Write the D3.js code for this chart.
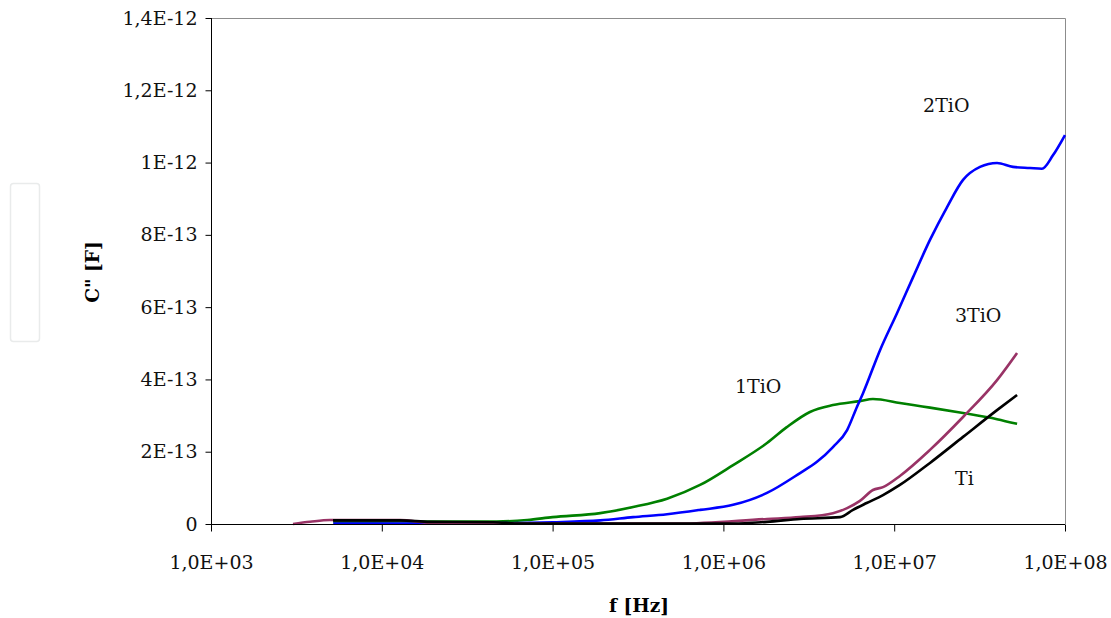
<!DOCTYPE html>
<html>
<head>
<meta charset="utf-8">
<script src="https://cdn.jsdelivr.net/npm/d3@7"></script>
<style>
  html, body { margin: 0; padding: 0; background: #fff; }
  svg { display: block; }
</style>
</head>
<body>
<div id="chart"></div>
<script>
// ---- data (frequency in Hz, C'' in F) ----
const xTicks = [1e3, 1e4, 1e5, 1e6, 1e7, 1e8];
const xTickLabels = ["1,0E+03", "1,0E+04", "1,0E+05", "1,0E+06", "1,0E+07", "1,0E+08"];
const yTicks = [0, 2e-13, 4e-13, 6e-13, 8e-13, 1e-12, 1.2e-12, 1.4e-12];
const yTickLabels = ["0", "2E-13", "4E-13", "6E-13", "8E-13", "1E-12", "1,2E-12", "1,4E-12"];

const seriesNames = ["2TiO", "1TiO", "3TiO", "Ti"];
const seriesColors = ["#0000ff", "#008000", "#993366", "#000000"];

const freq2TiO = [5.2e3, 2.5e4, 1.0e5, 1.9e5, 2.96e5, 4.68e5, 7.3e5, 1.14e6, 1.8e6, 2.81e6, 3.53e6, 4.38e6, 5.3e6, 6.05e6, 6.57e6, 8.26e6, 1.04e7, 1.29e7, 1.62e7, 2.04e7, 2.53e7, 3.18e7, 4.0e7, 4.96e7, 6.24e7, 7.33e7, 8.5e7, 1.0e8];
const val2TiO = [0.1e-14, 0.1e-14, 0.5e-14, 1.0e-14, 1.9e-14, 2.7e-14, 3.9e-14, 5.3e-14, 8.6e-14, 14.1e-14, 17.2e-14, 21.3e-14, 26.0e-14, 32.4e-14, 36.2e-14, 48.1e-14, 58.4e-14, 68.3e-14, 78.6e-14, 87.7e-14, 95.2e-14, 98.8e-14, 99.9e-14, 98.8e-14, 98.5e-14, 98.3e-14, 102e-14, 107.6e-14];

const freq1TiO = [5.2e3, 1.28e4, 2.5e4, 4.7e4, 7.1e4, 1.0e5, 1.9e5, 2.96e5, 4.68e5, 7.3e5, 1.14e6, 1.8e6, 2.35e6, 3.21e6, 4.38e6, 6.3e6, 7.51e6, 1.08e7, 1.29e7, 1.62e7, 2.53e7, 4.0e7, 5.24e7];
const val1TiO = [0.5e-14, 0.7e-14, 0.7e-14, 0.7e-14, 1.1e-14, 1.9e-14, 3.0e-14, 4.7e-14, 7.0e-14, 10.8e-14, 16.3e-14, 22.4e-14, 26.8e-14, 31.0e-14, 32.9e-14, 34.0e-14, 34.6e-14, 33.5e-14, 32.9e-14, 32.2e-14, 30.7e-14, 29.0e-14, 27.7e-14];

const freq3TiO = [3.02e3, 3.8e3, 4.96e3, 1.28e4, 1.92e4, 3.76e4, 5.5e5, 1.8e6, 2.81e6, 4.38e6, 5.3e6, 6.3e6, 7.51e6, 8.6e6, 1.08e7, 1.62e7, 2.53e7, 4.0e7, 5.24e7];
const val3TiO = [0, 0.6e-14, 1.1e-14, 1.1e-14, 0.3e-14, 0.1e-14, 0.1e-14, 1.4e-14, 1.9e-14, 3.0e-14, 4.4e-14, 6.4e-14, 9.4e-14, 10.2e-14, 13.3e-14, 20.5e-14, 29.6e-14, 39.8e-14, 47.3e-14];

const freqTi = [5.18e3, 1.28e4, 1.92e4, 4.5e4, 6.4e4, 1.14e6, 1.8e6, 2.81e6, 4.82e6, 5.74e6, 6.9e6, 8.6e6, 1.08e7, 1.62e7, 2.53e7, 4.0e7, 5.24e7];
const valTi = [1.0e-14, 1.0e-14, 0.6e-14, 0.5e-14, 0.1e-14, 0.1e-14, 0.6e-14, 1.4e-14, 1.9e-14, 3.9e-14, 5.8e-14, 8.0e-14, 10.8e-14, 16.9e-14, 24.1e-14, 31.5e-14, 35.7e-14];

// label anchor positions (data coordinates)
const labelFreq = [1.476e7, 1.17e6, 2.27e7, 2.27e7];
const labelVal = [11.4e-13, 3.62e-13, 5.59e-13, 1.08e-13];

// ---- chart ----
const W = 1111, H = 618;
const mLeft = 211, mRight = 1065, mTop = 18, mBottom = 524;
const serif = "'DejaVu Serif', 'Liberation Serif', serif";

const svg = d3.select("#chart").append("svg").attr("width", W).attr("height", H);

const x = d3.scaleLog().domain([1e3, 1e8]).range([mLeft, mRight]);
const y = d3.scaleLinear().domain([0, 1.4e-12]).range([mBottom, mTop]);

// faint box at left
svg.append("rect").attr("x", 10.5).attr("y", 183.5).attr("width", 29).attr("height", 158)
  .attr("rx", 3).attr("fill", "none").attr("stroke", "#e9ebeb").attr("stroke-width", 1.5);

// plot area border (top/right)
svg.append("path")
  .attr("d", `M${mLeft},${mTop + 0.5}H${mRight + 0.5}V${mBottom}`)
  .attr("fill", "none").attr("stroke", "#8c8c8c").attr("stroke-width", 1);

// lines
const seriesData = [
  [freq2TiO, val2TiO],
  [freq1TiO, val1TiO],
  [freq3TiO, val3TiO],
  [freqTi, valTi]
];
const line = d3.line().x(d => x(d[0])).y(d => y(d[1])).curve(d3.curveMonotoneX);
const drawOrder = [1, 0, 2, 3];
drawOrder.forEach(i => {
  const [fs, vs] = seriesData[i];
  svg.append("path")
    .datum(fs.map((f, k) => [f, vs[k]]))
    .attr("d", line)
    .attr("fill", "none")
    .attr("stroke", seriesColors[i])
    .attr("stroke-width", 2.6)
    .attr("stroke-linejoin", "round");
});

// axes
const yAxis = svg.append("g").attr("transform", `translate(${mLeft + 0.5},0)`)
  .call(d3.axisLeft(y).tickValues(yTicks).tickSize(6).tickPadding(8)
    .tickFormat((d, i) => yTickLabels[i]));
yAxis.select(".domain").attr("stroke", "#000").attr("d", `M0,${mBottom}V${mTop}`);
yAxis.selectAll(".tick line").attr("stroke", "#000");
yAxis.selectAll(".tick text").attr("font-family", serif).attr("font-size", 19).attr("fill", "#111");

const xAxis = svg.append("g").attr("transform", `translate(0,${mBottom + 0.5})`)
  .call(d3.axisBottom(x).tickValues(xTicks).tickSize(7).tickPadding(24)
    .tickFormat((d, i) => xTickLabels[i]));
xAxis.select(".domain").attr("stroke", "#000").attr("d", `M${mLeft},0H${mRight}`);
xAxis.selectAll(".tick line").attr("stroke", "#000");
xAxis.selectAll(".tick text").attr("font-family", serif).attr("font-size", 19).attr("fill", "#111");

// axis titles
svg.append("text")
  .attr("transform", `translate(${99},${272}) rotate(-90)`)
  .attr("text-anchor", "middle")
  .attr("font-family", serif).attr("font-weight", "bold").attr("font-size", 18.5)
  .text('C" [F]');

svg.append("text")
  .attr("x", 639).attr("y", 612)
  .attr("text-anchor", "middle")
  .attr("font-family", serif).attr("font-weight", "bold").attr("font-size", 18.5)
  .text("f [Hz]");

// series labels
seriesNames.forEach((name, i) => {
  svg.append("text")
    .attr("x", x(labelFreq[i])).attr("y", y(labelVal[i]))
    .attr("font-family", serif).attr("font-size", 19).attr("fill", "#111")
    .text(name);
});
</script>
</body>
</html>
